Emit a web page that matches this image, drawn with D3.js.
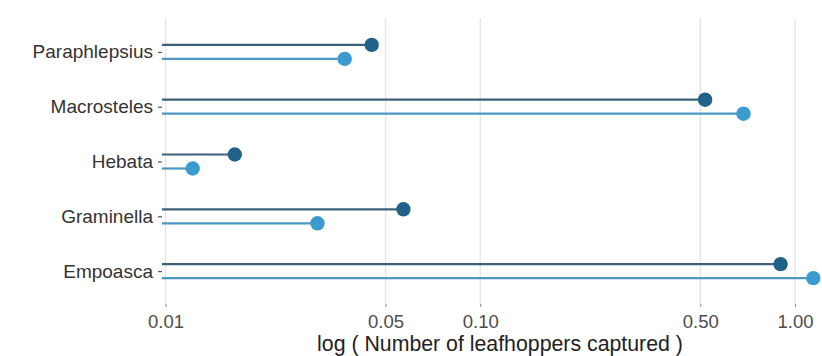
<!DOCTYPE html>
<html>
<head>
<meta charset="utf-8">
<script src="https://cdn.jsdelivr.net/npm/d3@7"></script>
<style>
  body { margin: 0; background: #fff; }
  text { font-family: "Liberation Sans", Arial, sans-serif; }
</style>
</head>
<body>
<script>
//dims
const width = 822, height = 356;

// data
const genera   = ['Paraphlepsius', 'Macrosteles', 'Hebata', 'Graminella', 'Empoasca'];
const darkVals  = [0.0452, 0.518, 0.0166, 0.0570, 0.900];
const lightVals = [0.0371, 0.686, 0.0122, 0.0304, 1.143];
const xTicks = [0.01, 0.05, 0.10, 0.50, 1.00];
const xTitle = 'log ( Number of leafhoppers captured )';

const darkCol = '#22618a', lightCol = '#3b9bcf';
const darkLine = '#3c6179', lightLine = '#4a98c4';

const svg = d3.select('body').append('svg')
    .attr('width', width)
    .attr('height', height);

// scales
const x = d3.scaleLog().domain([0.01, 1]).range([165.5, 795]);
const y = d3.scalePoint().domain(genera).range([19, 304]).padding(0.6);
const left = 162; // panel left edge, segments start here
const off = 7;    // dodge

// gridlines
svg.append('g').selectAll('line')
    .data(xTicks)
  .enter().append('line')
    .attr('x1', d => x(d)).attr('x2', d => x(d))
    .attr('y1', 18).attr('y2', 304)
    .attr('stroke', '#e4e4e4')
    .attr('stroke-width', 1.3);

// x axis
const xAxis = svg.append('g')
    .attr('transform', 'translate(0,304)')
    .call(d3.axisBottom(x).tickValues(xTicks).tickFormat(d3.format('.2f')).tickSize(3).tickPadding(8));
xAxis.select('.domain').remove();
xAxis.selectAll('.tick line').attr('stroke', '#999').attr('stroke-width', 1.2);
xAxis.selectAll('.tick text')
    .attr('fill', '#4d4d4d')
    .style('font-size', '18.5px');

// y axis
const yAxis = svg.append('g')
    .attr('transform', `translate(${left},0)`)
    .call(d3.axisLeft(y).tickSize(4).tickPadding(5));
yAxis.select('.domain').remove();
yAxis.selectAll('.tick line').attr('stroke', '#555').attr('stroke-width', 1.2);
yAxis.selectAll('.tick text')
    .attr('fill', '#333')
    .style('font-size', '19px');

// x title
svg.append('text')
    .attr('x', 500)
    .attr('y', 351)
    .attr('text-anchor', 'middle')
    .style('font-size', '21.3px')
    .attr('fill', '#222')
    .text(xTitle);

// lollipops
const series = [
  {vals: darkVals,  col: darkCol,  line: darkLine,  dy: -off},
  {vals: lightVals, col: lightCol, line: lightLine, dy: off}
];
series.forEach(s => {
  const g = svg.append('g');
  g.selectAll('line')
      .data(genera)
    .enter().append('line')
      .attr('x1', left)
      .attr('x2', (d, i) => x(s.vals[i]))
      .attr('y1', d => y(d) + s.dy)
      .attr('y2', d => y(d) + s.dy)
      .attr('stroke', s.line)
      .attr('stroke-width', 2.2);
  g.selectAll('circle')
      .data(genera)
    .enter().append('circle')
      .attr('cx', (d, i) => x(s.vals[i]))
      .attr('cy', d => y(d) + s.dy)
      .attr('r', 7.2)
      .attr('fill', s.col);
});
</script>
</body>
</html>
